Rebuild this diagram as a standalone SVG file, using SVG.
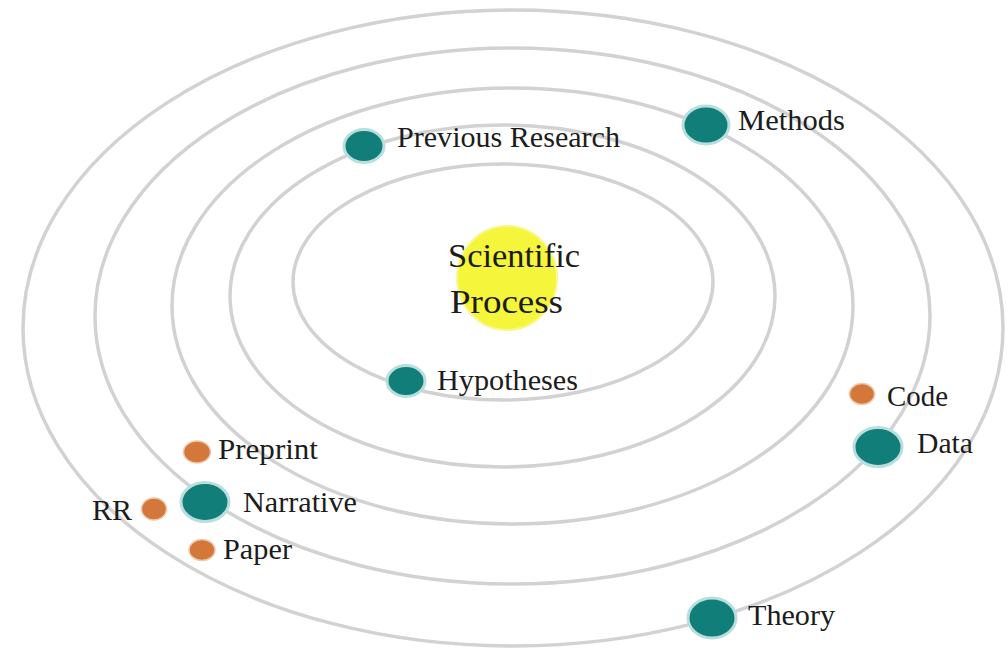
<svg xmlns="http://www.w3.org/2000/svg" width="1008" height="654" viewBox="0 0 1008 654">
<style>
.orbit{fill:none;stroke:#d2d2d2;stroke-width:3.5}
.big{fill:#117e79;stroke:#b9dede;stroke-width:3}
.small{fill:#d3783a;stroke:#efc9ad;stroke-width:1.5}
.lbl{font-family:"Liberation Serif","Times New Roman",serif;font-size:29px;fill:#1c1c1c}
.ctr{font-family:"Liberation Serif","Times New Roman",serif;font-size:33px;fill:#1c1c1c}
</style>
<rect width="1008" height="654" fill="#ffffff"/>
<g id="orbits">
<ellipse class="orbit" cx="513" cy="328" rx="490" ry="318"/>
<ellipse class="orbit" cx="512.5" cy="316" rx="417.5" ry="268"/>
<ellipse class="orbit" cx="512.5" cy="306" rx="340.5" ry="218"/>
<ellipse class="orbit" cx="502.5" cy="296" rx="272.5" ry="171"/>
<ellipse class="orbit" cx="503" cy="282" rx="210" ry="118"/>
</g>
<g id="center">
<ellipse cx="507" cy="278" rx="50" ry="52" fill="#f5f53c" stroke="#f8f890" stroke-width="2"/>
<text class="ctr" x="448" y="267" textLength="132" lengthAdjust="spacingAndGlyphs">Scientific</text>
<text class="ctr" x="450" y="313" textLength="113" lengthAdjust="spacingAndGlyphs">Process</text>
</g>
<g id="previous-research">
<ellipse class="big" cx="364" cy="146" rx="20" ry="16.5"/>
<text class="lbl" x="397" y="147" textLength="223" lengthAdjust="spacingAndGlyphs">Previous Research</text>
</g>
<g id="methods">
<ellipse class="big" cx="706" cy="125" rx="23" ry="19"/>
<text class="lbl" x="738" y="130" textLength="107" lengthAdjust="spacingAndGlyphs">Methods</text>
</g>
<g id="hypotheses">
<ellipse class="big" cx="406" cy="381" rx="19" ry="15.5"/>
<text class="lbl" x="437" y="390" textLength="141" lengthAdjust="spacingAndGlyphs">Hypotheses</text>
</g>
<g id="code">
<ellipse class="small" cx="862" cy="394" rx="12.5" ry="10.5"/>
<text class="lbl" x="887" y="406" textLength="61" lengthAdjust="spacingAndGlyphs">Code</text>
</g>
<g id="data">
<ellipse class="big" cx="878" cy="447" rx="24" ry="19.5"/>
<text class="lbl" x="917" y="453" textLength="56" lengthAdjust="spacingAndGlyphs">Data</text>
</g>
<g id="preprint">
<ellipse class="small" cx="197" cy="452" rx="13.5" ry="11"/>
<text class="lbl" x="218" y="459" textLength="100" lengthAdjust="spacingAndGlyphs">Preprint</text>
</g>
<g id="narrative">
<ellipse class="big" cx="205" cy="502" rx="24" ry="19.5"/>
<text class="lbl" x="243" y="512" textLength="114" lengthAdjust="spacingAndGlyphs">Narrative</text>
</g>
<g id="rr">
<ellipse class="small" cx="154" cy="509" rx="12.5" ry="11"/>
<text class="lbl" x="92" y="520" textLength="40" lengthAdjust="spacingAndGlyphs">RR</text>
</g>
<g id="paper">
<ellipse class="small" cx="202" cy="550" rx="13" ry="10.5"/>
<text class="lbl" x="223" y="559" textLength="69" lengthAdjust="spacingAndGlyphs">Paper</text>
</g>
<g id="theory">
<ellipse class="big" cx="712" cy="618" rx="24" ry="20"/>
<text class="lbl" x="748" y="625" textLength="87" lengthAdjust="spacingAndGlyphs">Theory</text>
</g>
<g id="connectors"></g>
</svg>
